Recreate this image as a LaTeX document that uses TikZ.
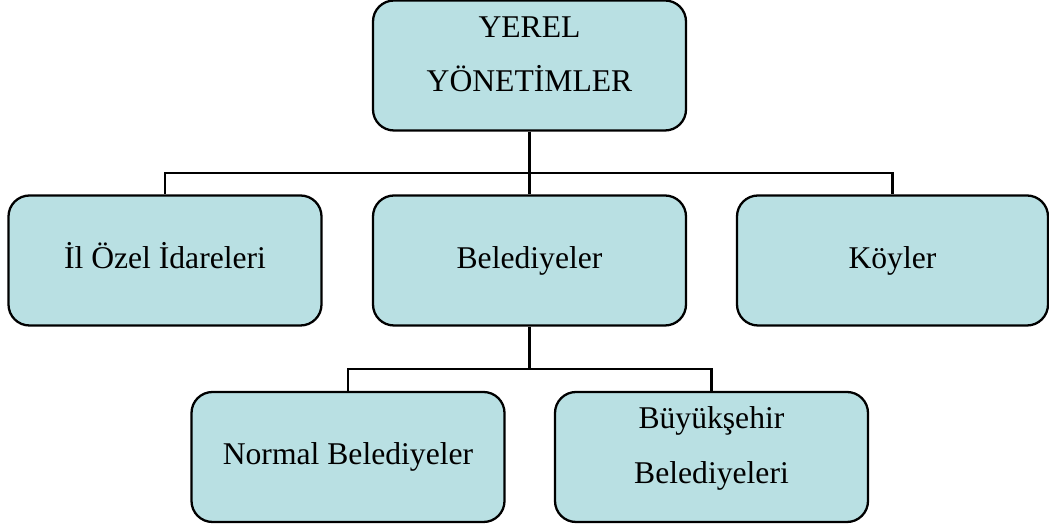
\documentclass[tikz,border=0pt]{standalone}
\usepackage{fontspec}
\setmainfont{Liberation Serif}
\definecolor{boxfill}{RGB}{185,224,227}

\begin{document}
\begin{tikzpicture}[line width=1.3pt,
                box/.style={rectangle, draw=black, fill=boxfill, rounded corners=0.42cm,
                            minimum width=6.26cm, minimum height=2.6cm, inner sep=0pt,
                            align=center, font=\fontsize{18}{31.2}\selectfont,
                            text height=0.46cm, text depth=0.15cm},
                twoline/.style={text height=1.54cm, text depth=0.48cm}]
        \useasboundingbox (0,0) rectangle (20.98,10.48);

        % Define nodes
        \node[box, twoline] (yerel) at (10.59,9.17) {YEREL\\YÖNETİMLER}; % Root
        \node[box] (ozel) at (3.30,5.27) {İl Özel İdareleri};
        \node[box] (bel) at (10.59,5.27) {Belediyeler};
        \node[box, minimum width=6.22cm] (koy) at (17.85,5.27) {Köyler};
        \node[box] (normal) at (6.96,1.34) {Normal Belediyeler}; % Child of bel
        \node[box, twoline] (buyuk) at (14.23,1.34) {Büyükşehir\\Belediyeleri}; % Child of bel

        % Bus lines
        \coordinate (bus1) at (0,7.02);
        \coordinate (bus2) at (0,3.10);

        % Define edges
        \draw (yerel.south) -- (bel.north);
        \draw (yerel.south |- bus1) -| (ozel.north);
        \draw (yerel.south |- bus1) -| (koy.north);
        \draw (bel.south) -- (bel.south |- bus2) -| (normal.north);
        \draw (bel.south |- bus2) -| (buyuk.north);
\end{tikzpicture}
\end{document}
